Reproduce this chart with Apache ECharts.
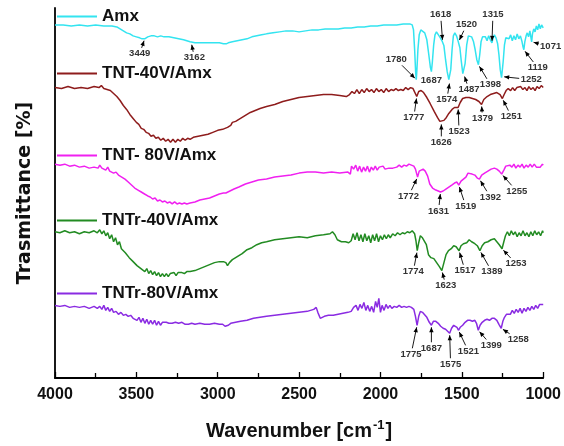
<!DOCTYPE html>
<html><head><meta charset="utf-8">
<script src="https://cdn.jsdelivr.net/npm/echarts@6/dist/echarts.min.js"></script>
<style>html,body{margin:0;padding:0;background:#fff}#c{width:564px;height:446px}</style>
</head><body><div id="c"></div>
<script>
// ---------- data ----------
const xTicks = [4000, 3500, 3000, 2500, 2000, 1500, 1000];
const seriesNames = ['Amx', 'TNT-40V/Amx', 'TNT- 80V/Amx', 'TNTr-40V/Amx', 'TNTr-80V/Amx'];

// [wavenumber, transmittance (arbitrary, offset)]
const amx = [[4000,355],[3950,355],[3900,354],[3850,355],[3800,354],[3750,355],[3700,354],[3650,354],[3620,353],[3600,351],[3580,349],[3560,347],[3540,346],[3520,344],[3500,343],[3480,342],[3465,341],[3449,341],[3430,343],[3410,344],[3390,344],[3370,343],[3350,344],[3330,343],[3300,343],[3270,342],[3240,341],[3210,340],[3190,339],[3170,338],[3162,337],[3140,337],[3110,337],[3080,337],[3050,337],[3020,337],[2990,337],[2965,336],[2955,334],[2948,336],[2935,337],[2910,338],[2880,339],[2850,340],[2820,341],[2790,343],[2760,344],[2730,345],[2700,346],[2660,347],[2620,348],[2580,349],[2540,349],[2500,348],[2460,349],[2420,350],[2380,350],[2340,351],[2300,351],[2260,351],[2220,352],[2180,352],[2140,353],[2100,353],[2060,354],[2020,354],[1980,355],[1940,355],[1900,355],[1860,356],[1820,356],[1805,355],[1797,350],[1790,330],[1784,308],[1780,300],[1776,310],[1770,330],[1762,345],[1752,350],[1740,350],[1728,347],[1715,340],[1703,325],[1693,312],[1687,308],[1681,318],[1673,335],[1665,345],[1656,348],[1645,346],[1632,342],[1622,339],[1618,338],[1610,334],[1600,320],[1590,308],[1580,300],[1574,298],[1568,310],[1560,330],[1552,344],[1543,347],[1533,344],[1525,340],[1520,338],[1512,332],[1503,318],[1494,306],[1487,305],[1480,316],[1470,335],[1460,344],[1450,346],[1440,343],[1428,338],[1418,330],[1408,320],[1398,315],[1390,325],[1382,338],[1373,343],[1365,341],[1355,343],[1345,339],[1335,344],[1325,340],[1315,337],[1308,342],[1300,345],[1290,342],[1280,336],[1272,325],[1264,310],[1256,302],[1252,303],[1246,318],[1238,335],[1230,342],[1220,344],[1210,341],[1200,345],[1190,339],[1180,344],[1170,340],[1160,346],[1150,341],[1140,344],[1130,338],[1124,333],[1119,330],[1113,338],[1105,344],[1098,347],[1090,343],[1082,349],[1076,343],[1071,338],[1066,346],[1058,351],[1050,348],[1042,354],[1034,350],[1026,356],[1018,351],[1010,355],[1000,352]];

const tnt40 = [[4000,292],[3960,291],[3920,293],[3880,291],[3840,292],[3800,291],[3760,293],[3730,292],[3715,294],[3700,291],[3680,290],[3660,289],[3640,286],[3620,283],[3600,279],[3580,274],[3560,270],[3540,265],[3520,261],[3500,257],[3485,255],[3470,251],[3455,250],[3440,247],[3425,246],[3410,243],[3395,244],[3380,241],[3365,242],[3350,239],[3335,241],[3320,238],[3305,240],[3290,237],[3275,240],[3260,237],[3245,240],[3230,238],[3215,241],[3200,239],[3185,241],[3170,240],[3150,242],[3120,243],[3090,244],[3060,245],[3030,247],[3000,249],[2970,250],[2940,252],[2920,254],[2910,257],[2890,258],[2860,261],[2830,264],[2800,267],[2770,269],[2740,271],[2700,273],[2650,275],[2600,278],[2550,280],[2500,282],[2450,283],[2400,284],[2350,285],[2300,285],[2250,284],[2210,283],[2190,285],[2175,288],[2160,286],[2145,290],[2130,286],[2115,290],[2100,287],[2085,291],[2070,288],[2055,290],[2040,287],[2025,291],[2010,288],[1995,290],[1980,287],[1965,291],[1950,288],[1935,290],[1920,289],[1905,291],[1890,289],[1875,290],[1860,289],[1845,292],[1830,290],[1815,292],[1800,291],[1790,289],[1777,283],[1765,288],[1750,289],[1735,287],[1715,282],[1695,276],[1670,268],[1650,262],[1635,258],[1626,257],[1610,259],[1595,262],[1580,266],[1560,270],[1545,272],[1535,274],[1523,272],[1510,277],[1495,281],[1475,282],[1455,282],[1435,281],[1415,280],[1395,278],[1379,275],[1365,280],[1345,283],[1325,285],[1305,286],[1285,287],[1265,285],[1251,281],[1240,285],[1228,289],[1215,291],[1200,289],[1188,292],[1175,289],[1162,292],[1150,290],[1138,293],[1125,290],[1112,292],[1100,289],[1088,293],[1075,290],[1062,292],[1050,289],[1038,293],[1025,291],[1012,294],[1000,292]];

const tnt80 = [[4000,215],[3970,214],[3940,215],[3910,213],[3880,214],[3850,212],[3820,213],[3790,211],[3760,212],[3735,211],[3725,214],[3712,211],[3700,213],[3688,209],[3676,212],[3664,208],[3652,210],[3640,206],[3625,207],[3610,204],[3590,202],[3570,200],[3550,197],[3530,194],[3510,191],[3490,189],[3470,187],[3450,185],[3430,183],[3415,182],[3400,180],[3385,181],[3370,178],[3355,179],[3340,177],[3325,178],[3310,176],[3295,177],[3280,175],[3265,177],[3250,175],[3235,176],[3220,175],[3205,176],[3190,175],[3170,176],[3140,177],[3110,179],[3080,180],[3050,181],[3020,183],[2990,185],[2965,186],[2950,186],[2940,184],[2925,188],[2900,190],[2870,192],[2830,195],[2790,197],[2750,199],[2700,200],[2650,202],[2600,203],[2550,204],[2500,206],[2450,207],[2400,207],[2350,206],[2300,207],[2250,206],[2200,207],[2185,205],[2178,213],[2165,210],[2152,214],[2140,208],[2128,213],[2116,207],[2104,212],[2092,208],[2080,213],[2068,207],[2056,212],[2044,209],[2032,213],[2020,209],[2008,212],[1996,210],[1984,213],[1972,210],[1960,212],[1948,211],[1936,213],[1924,211],[1912,213],[1900,212],[1885,214],[1870,212],[1855,214],[1840,213],[1825,215],[1810,214],[1795,213],[1785,210],[1772,202],[1762,208],[1750,210],[1738,210],[1725,208],[1710,203],[1697,195],[1680,191],[1660,189],[1645,188],[1631,187],[1615,188],[1598,190],[1580,192],[1562,194],[1545,196],[1530,197],[1519,194],[1505,198],[1490,200],[1475,202],[1462,206],[1450,207],[1437,205],[1420,204],[1405,201],[1392,200],[1378,204],[1360,206],[1340,208],[1320,210],[1300,211],[1285,210],[1270,208],[1255,205],[1242,209],[1230,213],[1218,211],[1205,214],[1192,212],[1180,215],[1168,211],[1155,214],[1142,212],[1130,215],[1118,211],[1105,214],[1092,212],[1080,215],[1068,212],[1055,215],[1042,212],[1030,214],[1018,212],[1005,215],[1000,214]];

const tntr40 = [[4000,147],[3970,146],[3940,148],[3910,146],[3880,147],[3850,145],[3820,147],[3790,146],[3760,148],[3740,146],[3725,149],[3712,145],[3700,148],[3688,143],[3676,146],[3664,140],[3652,144],[3640,137],[3628,141],[3616,134],[3604,137],[3592,130],[3580,132],[3568,126],[3556,128],[3544,121],[3532,123],[3520,117],[3508,119],[3496,113],[3484,115],[3472,110],[3460,112],[3448,107],[3436,110],[3424,105],[3412,108],[3400,104],[3388,107],[3376,103],[3364,106],[3352,102],[3340,105],[3328,102],[3316,105],[3304,102],[3292,105],[3280,103],[3268,106],[3256,103],[3244,106],[3232,104],[3220,106],[3205,105],[3190,107],[3170,107],[3140,108],[3110,110],[3080,112],[3050,114],[3020,116],[2990,117],[2965,117],[2950,116],[2940,113],[2928,116],[2910,119],[2880,122],[2850,125],[2820,129],[2790,131],[2760,134],[2730,136],[2700,137],[2650,139],[2600,140],[2550,141],[2500,142],[2450,141],[2400,143],[2350,144],[2310,145],[2295,147],[2288,149],[2280,144],[2265,139],[2240,137],[2215,137],[2195,136],[2180,138],[2168,145],[2156,139],[2144,146],[2132,138],[2120,144],[2108,137],[2096,145],[2084,138],[2072,143],[2060,136],[2048,144],[2036,138],[2024,145],[2012,137],[2000,143],[1988,139],[1976,144],[1964,140],[1952,144],[1940,141],[1925,145],[1910,143],[1895,146],[1880,144],[1865,146],[1850,145],[1835,147],[1820,146],[1805,148],[1790,145],[1782,138],[1774,128],[1765,136],[1755,143],[1742,141],[1730,140],[1718,134],[1705,124],[1690,121],[1672,120],[1655,116],[1638,112],[1623,108],[1610,116],[1597,124],[1582,128],[1565,130],[1550,133],[1535,132],[1517,128],[1505,133],[1490,135],[1470,136],[1455,139],[1440,137],[1420,135],[1405,133],[1389,128],[1375,133],[1360,136],[1340,137],[1320,139],[1300,140],[1285,137],[1270,134],[1253,130],[1242,137],[1232,143],[1220,147],[1208,143],[1196,148],[1184,144],[1172,147],[1160,142],[1148,146],[1136,143],[1124,148],[1112,143],[1100,146],[1088,142],[1076,147],[1064,143],[1052,148],[1040,144],[1028,147],[1016,143],[1004,148],[1000,146]];

const tntr80 = [[4000,73],[3970,72],[3940,73],[3910,71],[3880,72],[3850,71],[3820,72],[3790,70],[3760,72],[3740,70],[3725,72],[3712,69],[3700,73],[3688,68],[3676,71],[3664,67],[3652,70],[3640,66],[3625,67],[3610,64],[3595,66],[3580,63],[3565,64],[3550,62],[3535,63],[3520,60],[3508,62],[3496,58],[3484,61],[3472,56],[3460,60],[3448,55],[3436,59],[3424,54],[3412,58],[3400,54],[3388,58],[3376,53],[3364,57],[3352,53],[3340,56],[3328,54],[3316,56],[3300,55],[3280,55],[3260,56],[3240,55],[3220,56],[3200,54],[3180,54],[3160,55],[3140,54],[3110,55],[3080,54],[3050,54],[3020,55],[2990,54],[2970,54],[2955,52],[2945,51],[2935,53],[2920,55],[2890,56],[2860,57],[2820,58],[2780,60],[2740,61],[2700,62],[2650,63],[2600,64],[2550,65],[2500,66],[2450,67],[2410,69],[2395,71],[2385,66],[2370,60],[2360,58],[2345,62],[2320,63],[2290,63],[2260,64],[2230,65],[2200,66],[2180,67],[2165,71],[2150,73],[2138,68],[2126,74],[2114,70],[2102,76],[2090,68],[2078,73],[2066,67],[2054,72],[2042,66],[2030,77],[2020,71],[2010,80],[2000,66],[1990,73],[1978,68],[1966,74],[1954,70],[1942,73],[1930,70],[1915,72],[1900,71],[1885,73],[1870,71],[1855,72],[1840,71],[1825,72],[1810,71],[1795,69],[1785,62],[1775,53],[1765,62],[1755,67],[1742,66],[1730,64],[1715,61],[1700,56],[1687,53],[1675,57],[1660,57],[1645,55],[1630,52],[1615,50],[1600,49],[1588,47],[1575,45],[1563,50],[1550,53],[1540,52],[1530,51],[1521,48],[1510,51],[1495,53],[1480,56],[1465,58],[1450,58],[1435,57],[1420,58],[1410,55],[1399,48],[1388,53],[1375,56],[1360,58],[1345,59],[1330,58],[1315,60],[1300,60],[1285,58],[1272,54],[1258,50],[1248,57],[1238,61],[1226,64],[1214,66],[1202,64],[1190,68],[1178,65],[1166,69],[1154,66],[1142,70],[1130,65],[1118,70],[1106,67],[1094,71],[1082,68],[1070,72],[1058,69],[1046,73],[1034,70],[1022,74],[1010,72],[1000,74]];

// peak annotations (wavenumbers)
const peaksAmx = [3449, 3162, 1780, 1687, 1618, 1574, 1520, 1487, 1398, 1315, 1252, 1119, 1071];
const peaksT40 = [1777, 1626, 1523, 1379, 1251];
const peaksT80 = [1772, 1631, 1519, 1392, 1255];
const peaksR40 = [1774, 1623, 1517, 1389, 1253];
const peaksR80 = [1775, 1687, 1575, 1521, 1399, 1258];

// ---------- layout (label offsets from peak, px) ----------
const offsAmx = [[-5,15],[3,15],[-20,-20],[0,9],[-2,-27],[-3,18],[8,-17],[5,15],[12,20],[1,-28],[29,3],[14,18],[19,5]];
const offsT40 = [[-3,21],[0,20],[1,24],[1,14],[9,18]];
const offsT80 = [[-9,19],[-2,19],[7,21],[11,18],[15,17]];
const offsR40 = [[-4,21],[4,15],[6,20],[12,21],[14,15]];
const offsR80 = [[-6,29],[0,23],[1,31],[10,21],[13,15],[17,11]];

const colors = ['#33e4f0', '#8e1c1c', '#f020f0', '#228b22', '#8a2be2'];
const legendTops = [8, 65, 147, 212, 285];
const FONT = 'Arial, "Liberation Sans", sans-serif';

const allData = [amx, tnt40, tnt80, tntr40, tntr80];
const allPeaks = [peaksAmx, peaksT40, peaksT80, peaksR40, peaksR80];
const allOffs = [offsAmx, offsT40, offsT80, offsR40, offsR80];

const chart = echarts.init(document.getElementById('c'), null, {renderer: 'canvas'});

const option = {
  animation: false,
  backgroundColor: '#fff',
  grid: {left: 55, right: 19, top: 8, bottom: 66, containLabel: false},
  legend: seriesNames.map((n, i) => ({
    data: [n], left: 57, top: legendTops[i], padding: 0,
    icon: 'rect', itemWidth: 40, itemHeight: 2, selectedMode: false,
    textStyle: {fontFamily: FONT, fontWeight: 'bold', fontSize: 17, color: '#111'}
  })),
  xAxis: {
    type: 'value', min: 1000, max: 4000, interval: 500, inverse: true,
    axisLine: {lineStyle: {color: '#000', width: 1.8}},
    axisTick: {inside: true, length: 6, lineStyle: {color: '#000', width: 1.3}},
    minorTick: {show: true, splitNumber: 2, length: 5, lineStyle: {color: '#000', width: 1.3}},
    splitLine: {show: false},
    axisLabel: {fontFamily: FONT, fontWeight: 'bold', fontSize: 16, color: '#111', margin: 9,
      formatter: v => xTicks.includes(v) ? String(v) : ''},
    name: '{a|Wavenumber [cm}{s|-1}{a|]}', nameLocation: 'middle', nameGap: 41,
    nameTextStyle: {rich: {
      a: {fontFamily: FONT, fontWeight: 'bold', fontSize: 20, color: '#111', lineHeight: 24},
      s: {fontFamily: FONT, fontWeight: 'bold', fontSize: 13, color: '#111', verticalAlign: 'top', lineHeight: 24, padding: [0, 1, 0, 1]}
    }}
  },
  yAxis: {
    type: 'value', min: 0, max: 372,
    axisLine: {show: true, lineStyle: {color: '#000', width: 1.8}},
    axisTick: {show: false}, axisLabel: {show: false}, splitLine: {show: false},
    name: 'Trasmittance [%]', nameLocation: 'middle', nameGap: 20,
    nameTextStyle: {fontFamily: '"DejaVu Sans", sans-serif', fontWeight: 'bold', fontSize: 19, color: '#111'}
  },
  series: seriesNames.map((n, i) => ({
    name: n, type: 'line', data: allData[i], showSymbol: false, symbol: 'none',
    lineStyle: {color: colors[i], width: 1.5}, itemStyle: {color: colors[i]}, z: 2
  }))
};
chart.setOption(option);

function interp(data, wn) {
  for (let k = 0; k < data.length - 1; k++) {
    const a = data[k], b = data[k + 1];
    if ((wn <= a[0] && wn >= b[0])) {
      const t = (a[0] - wn) / (a[0] - b[0]);
      return a[1] + (b[1] - a[1]) * t;
    }
  }
  return data[data.length - 1][1];
}

const graphics = [];
allPeaks.forEach((peaks, si) => {
  peaks.forEach((wn, pi) => {
    const tip = chart.convertToPixel({xAxisIndex: 0, yAxisIndex: 0}, [wn, interp(allData[si], wn)]);
    const off = allOffs[si][pi];
    const lx = tip[0] + off[0], ly = tip[1] + off[1];
    graphics.push({type: 'text', x: lx, y: ly, z: 10, silent: true,
      style: {text: String(wn), font: 'bold 9.5px ' + FONT, fill: '#333',
        align: 'center', verticalAlign: 'middle', textAlign: 'center', textVerticalAlign: 'middle'}});
    const dx = tip[0] - lx, dy = tip[1] - ly;
    const len = Math.hypot(dx, dy);
    if (len < 12) return;
    const ux = dx / len, uy = dy / len;
    const hw = 11, hh = 5;
    const tBox = Math.min(Math.abs(ux) > 1e-6 ? hw / Math.abs(ux) : 1e9, Math.abs(uy) > 1e-6 ? hh / Math.abs(uy) : 1e9) + 1;
    const sx = lx + ux * tBox, sy = ly + uy * tBox;
    const ex = tip[0] - ux * 2, ey = tip[1] - uy * 2;
    graphics.push({type: 'line', z: 10, silent: true, shape: {x1: sx, y1: sy, x2: ex, y2: ey},
      style: {stroke: '#000', lineWidth: 0.9}});
    const hl = 5, hwid = 2.2;
    const bx = ex - ux * hl, by = ey - uy * hl;
    graphics.push({type: 'polygon', z: 10, silent: true,
      shape: {points: [[ex, ey], [bx - uy * hwid, by + ux * hwid], [bx + uy * hwid, by - ux * hwid]]},
      style: {fill: '#000'}});
  });
});
chart.setOption({graphic: graphics});
</script>
</body></html>
